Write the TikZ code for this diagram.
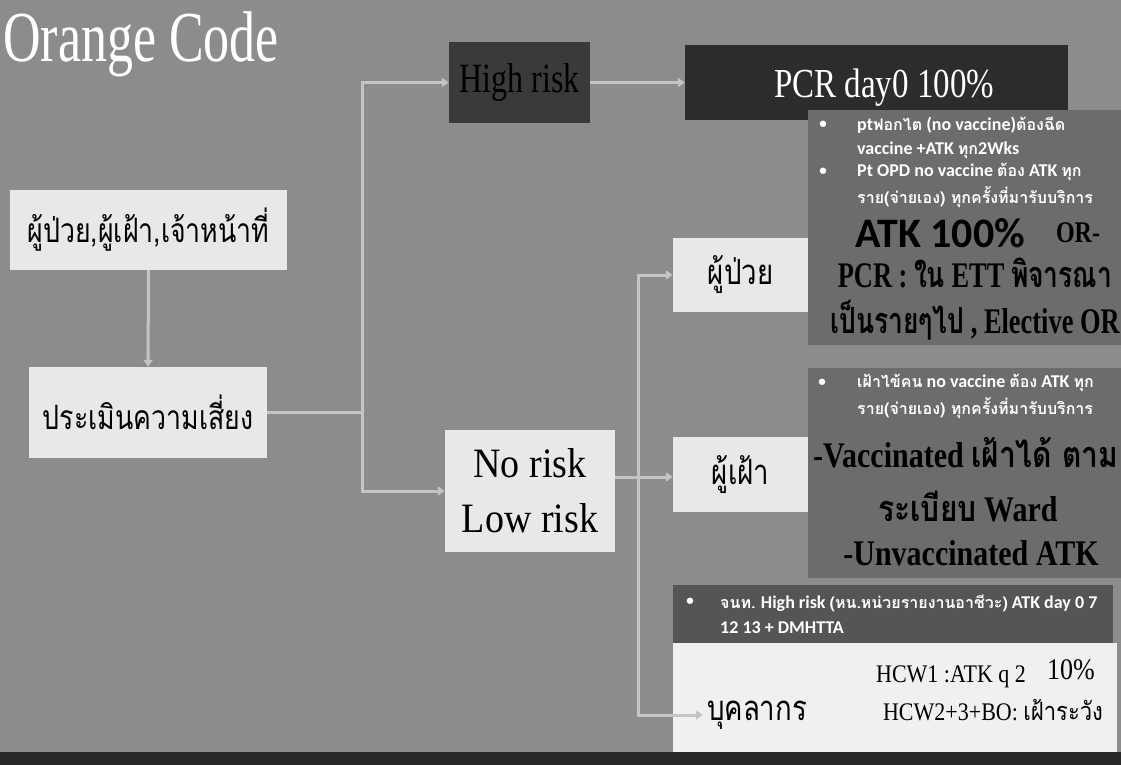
\documentclass[tikz,border=0pt]{standalone}
\usepackage{fontspec}
\usepackage{graphicx}
\setmainfont{Liberation Serif}
\newfontfamily\thfont[Script=Thai]{Loma}
\newfontfamily\carl{Carlito}
\usetikzlibrary{arrows.meta}
\newcommand\tl[2][1.25]{\scalebox{1}[#1]{#2}}
\newcommand\thb[1]{\scalebox{0.89}[1.12]{#1}}
\newcommand\thx[1]{{\thfont #1}}
\newcommand\ths[1]{{\thfont\fontsize{16}{18}\selectfont #1}}
\definecolor{bgc}{RGB}{140,140,140}
\definecolor{boxc}{RGB}{232,232,232}
\definecolor{darkc}{RGB}{58,58,58}
\definecolor{pcrc}{RGB}{44,44,44}
\definecolor{panelc}{RGB}{108,108,108}
\definecolor{bandc}{RGB}{85,85,85}
\definecolor{whitec}{RGB}{240,240,240}
\definecolor{connc}{RGB}{196,196,196}
\definecolor{stripc}{RGB}{40,40,40}
\begin{document}
\begin{tikzpicture}[x=1pt,y=-1pt,
  conn/.style={draw=connc,line width=3pt},
  arr/.style={conn,-{Triangle[length=7pt,width=9pt]}},
  lbox/.style={rectangle,fill=boxc,inner sep=0pt,text=black},
  dbox/.style={rectangle,inner sep=0pt},
  bul/.style={text=white,font=\carl\bfseries\fontsize{15}{18}\selectfont,inner sep=0pt},
  ptxt/.style={text=white,font=\carl\bfseries\fontsize{18}{20}\selectfont,inner sep=0pt,anchor=west},
  bigser/.style={text=black,inner sep=0pt,font=\bfseries\fontsize{30}{34}\selectfont},
  hcw/.style={text=black,inner sep=0pt,font=\fontsize{22}{26}\selectfont}
]
\clip (0,0) rectangle (1121,765);
\fill[bgc] (0,0) rectangle (1121,765);
\fill[stripc] (0,752) rectangle (1121,765);

% title
\node[anchor=west,text=white,inner sep=0pt,font=\fontsize{52}{60}\selectfont] (title) at (3,44) {\tl[1.38]{Orange Code}};

% left column
\node[lbox,minimum width=277pt,minimum height=80pt,font=\thfont\fontsize{30}{36}\selectfont] (box1) at (148.5,230) {\thb{ผู้ป่วย,ผู้เฝ้า,เจ้าหน้าที่}};
\node[lbox,minimum width=238pt,minimum height=91pt,font=\thfont\fontsize{30}{36}\selectfont] (box2) at (148,412.5) {\thb{ประเมินความเสี่ยง}};

% high risk
\node[dbox,fill=darkc,minimum width=141pt,minimum height=81pt,text=black,font=\fontsize{32}{36}\selectfont] (high) at (519.5,82.5) {\tl[1.3]{High risk}};
% PCR
\node[dbox,fill=pcrc,minimum width=383pt,minimum height=75pt] (pcr) at (876.5,82.5) {};
\node[text=white,inner sep=0pt,font=\fontsize{33}{36}\selectfont] (pcrt) at (884,88) {\tl[1.25]{PCR day0 100\%}};

% panels
\fill[panelc] (808,110) rectangle (1121,345);
\fill[panelc] (808,368) rectangle (1121,578);
\fill[bandc] (673,585) rectangle (1113,643);
\fill[whitec] (673,643) rectangle (1117,752);

% no risk
\node[lbox,minimum width=170pt,minimum height=122pt,align=center,font=\fontsize{38}{55}\selectfont] (nor) at (530,491) {\tl[1.1]{No risk}\\\tl[1.1]{Low risk}};
% patient / visitor
\node[lbox,minimum width=135pt,minimum height=74pt,font=\thfont\fontsize{31}{36}\selectfont] (pt) at (740.5,275) {\thb{ผู้ป่วย}};
\node[lbox,minimum width=135pt,minimum height=75pt,font=\thfont\fontsize{31}{36}\selectfont] (vis) at (740.5,474.5) {\thb{ผู้เฝ้า}};

% panel 1 text
\node[bul] (b1) at (823,125) {•};
\node[ptxt] (p1a) at (857,125) {pt\ths{ฟอกไต} (no vaccine)\ths{ต้องฉีด}};
\node[ptxt] (p1b) at (857,150) {vaccine +ATK \ths{ทุก}2Wks};
\node[bul] (b2) at (823,172) {•};
\node[ptxt] (p1c) at (857,172) {Pt OPD no vaccine \ths{ต้อง} ATK \ths{ทุก}};
\node[ptxt] (p1d) at (857,197) {\ths{ราย(จ่ายเอง) ทุกครั้งที่มารับบริการ}};
\node[text=black,inner sep=0pt,font=\carl\bfseries\fontsize{42}{46}\selectfont] (atk) at (940,233) {ATK 100\%};
\node[bigser,font=\bfseries\fontsize{24}{28}\selectfont] (or1) at (1078,233) {\tl[1.25]{OR-}};
\node[bigser] (pcr2) at (975,273) {\scalebox{0.88}[1.2]{PCR : \thx{ใน} ETT \thx{พิจารณา}}};
\node[bigser] (pcr3) at (975,320) {\scalebox{0.88}[1.2]{\thx{เป็นรายๆไป} , Elective OR}};

% panel 2 text
\node[bul] (b3) at (822,383) {•};
\node[ptxt] (p2a) at (857,383) {\ths{เฝ้าไข้คน} no vaccine \ths{ต้อง} ATK \ths{ทุก}};
\node[ptxt] (p2b) at (857,408) {\ths{ราย(จ่ายเอง) ทุกครั้งที่มารับบริการ}};
\node[bigser,anchor=west] (v1) at (813,453) {\tl[1.2]{-Vaccinated \thx{เฝ้าได้ ตาม}}};
\node[bigser] (v2) at (968,507) {\tl[1.2]{\thx{ระเบียบ} Ward}};
\node[bigser] (v3) at (971,553) {\tl[1.2]{-Unvaccinated ATK}};

% staff box text
\node[bul] (b4) at (690,602) {•};
\node[ptxt] (s1) at (720,603) {\ths{จนท.} High risk \ths{(หน.หน่วยรายงานอาชีวะ)} ATK day 0 7};
\node[ptxt] (s2) at (720,628) {12 13 + DMHTTA};
\node[hcw] (h1) at (951,677) {\tl[1.15]{HCW1 :ATK q 2}};
\node[hcw,font=\fontsize{26}{30}\selectfont] (h10) at (1071,670) {\tl[1.15]{10\%}};
\node[hcw] (h2) at (993,710) {\tl[1.15]{HCW2+3+BO: \thx{เฝ้าระวัง}}};
\node[inner sep=0pt,text=black,font=\thfont\fontsize{31}{36}\selectfont] (staff) at (757,715) {\thb{บุคลากร}};

% connectors
\draw[arr] (box1) -- (box2);
\coordinate (j1) at (362,415);
\draw[conn] (box2.east) -- (box2.east -| j1);
\draw[arr] (j1) |- (high.west);
\draw[arr] (j1) |- (nor.west);
\draw[arr] (high) -- (pcr);
\coordinate (j2) at (638,477);
\draw[conn] (nor.east |- j2) -- (j2);
\draw[arr] (j2) |- (pt.west);
\draw[arr] (j2) -- (vis.west |- j2);
\draw[arr] (j2) |- ([xshift=-4pt]staff.west);
\end{tikzpicture}
\end{document}
